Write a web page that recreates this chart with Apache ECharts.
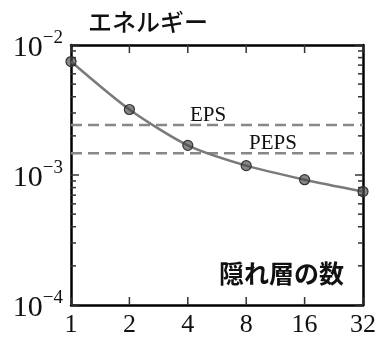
<!DOCTYPE html>
<html>
<head>
<meta charset="utf-8">
<script src="https://cdn.jsdelivr.net/npm/echarts@6/dist/echarts.min.js"></script>
<style>
  html, body { margin: 0; padding: 0; background: #fff; }
  #chart { width: 379px; height: 338px; }
</style>
</head>
<body>
<div id="chart"></div>
<script>
// Hidden-layer counts and the energy error reached with each
const layers = [1, 2, 4, 8, 16, 32];
const energy = [0.00746, 0.00319, 0.00169, 0.00118, 0.00092, 0.000746];

// Reference levels for the tensor-network ansätze
const refNames = ['EPS', 'PEPS'];
const refLevels = [0.00242, 0.00147];

// Tick values
const xTicks = [1, 2, 4, 8, 16, 32];
const yMajor = [1e-4, 1e-3, 1e-2];
const yMinor = [];
[1e-4, 1e-3].forEach(function (d) {
  for (let k = 2; k <= 9; k++) yMinor.push(+(d * k).toPrecision(3));
});

const X_MIN = 1, X_MAX = 32, Y_MIN = 1e-4, Y_MAX = 1e-2;
const serif = '"Liberation Serif", "DejaVu Serif", serif';
const cjk = '"Noto Sans CJK JP", "Noto Sans", sans-serif';

const frame = { show: true, onZero: false, lineStyle: { color: '#000', width: 2.5 } };

const chart = echarts.init(document.getElementById('chart'), null, { renderer: 'canvas' });

chart.setOption({
  animation: false,
  backgroundColor: '#fff',
  title: {
    text: 'エネルギー', left: 83, top: 5,
    textStyle: { fontFamily: cjk, fontSize: 24, fontWeight: 500, color: '#111' }
  },
  grid: { left: 71, right: 16, top: 45, bottom: 31, containLabel: false },
  xAxis: [{
    type: 'log', logBase: 2, min: X_MIN, max: X_MAX, position: 'bottom',
    axisLine: frame, axisTick: { show: false }, splitLine: { show: false },
    axisLabel: {
      show: true, customValues: xTicks, margin: 7,
      showMinLabel: true, showMaxLabel: true,
      fontFamily: serif, fontSize: 26, color: '#111',
      formatter: function (v) { return String(Math.round(v)); }
    }
  }, {
    type: 'log', logBase: 2, min: X_MIN, max: X_MAX, position: 'top',
    axisLine: frame, axisTick: { show: false }, splitLine: { show: false },
    axisLabel: { show: false }
  }],
  yAxis: [{
    type: 'log', logBase: 10, min: Y_MIN, max: Y_MAX, position: 'left',
    axisLine: frame, axisTick: { show: false }, splitLine: { show: false },
    minorTick: { show: false },
    axisLabel: {
      show: true, customValues: yMajor, margin: 8,
      showMinLabel: true, showMaxLabel: true,
      formatter: function (v) {
        const e = Math.round(Math.log10(v));
        return '{b|10}{s|\u2212' + Math.abs(e) + '}';
      },
      rich: {
        b: { fontFamily: serif, fontSize: 30, color: '#111', lineHeight: 32, padding: [6, 0, 0, 0] },
        s: { fontFamily: serif, fontSize: 19, color: '#111', verticalAlign: 'top', lineHeight: 19 }
      }
    }
  }, {
    type: 'log', logBase: 10, min: Y_MIN, max: Y_MAX, position: 'right',
    axisLine: frame, axisTick: { show: false }, splitLine: { show: false },
    axisLabel: { show: false }
  }],
  series: [
    // dashed reference levels
    {
      type: 'line', xAxisIndex: 0, yAxisIndex: 0, silent: true, z: 2,
      symbol: 'none',
      lineStyle: { color: '#888', width: 2.5, type: [11, 6] },
      data: [[X_MIN, refLevels[0]], [X_MAX, refLevels[0]]]
    },
    {
      type: 'line', xAxisIndex: 0, yAxisIndex: 0, silent: true, z: 2,
      symbol: 'none',
      lineStyle: { color: '#888', width: 2.5, type: [11, 6] },
      data: [[X_MIN, refLevels[1]], [X_MAX, refLevels[1]]]
    },
    // energy curve
    {
      type: 'line', xAxisIndex: 0, yAxisIndex: 0, z: 3,
      data: layers.map(function (n, i) { return [n, energy[i]]; }),
      smooth: 0.25, clip: false,
      lineStyle: { color: '#7a7a7a', width: 2.5 },
      symbol: 'circle', symbolSize: 10,
      itemStyle: { color: 'rgba(70,70,70,0.65)', borderColor: '#333', borderWidth: 1.2 }
    }
  ]
});

// Frame ticks (pointing inward) and text labels, placed through the axes' scales
function px(x, y) { return chart.convertToPixel({ xAxisIndex: 0, yAxisIndex: 0 }, [x, y]); }
function tickRect(id, x, y, w, h) {
  return { type: 'rect', id: id, z: 20, silent: true,
           shape: { x: x, y: y, width: w, height: h },
           style: { fill: '#333' } };
}

const graphics = [];
yMajor.concat(yMinor).forEach(function (v, i) {
  const len = yMajor.indexOf(v) >= 0 ? 8 : 5;
  const l = px(X_MIN, v), r = px(X_MAX, v);
  graphics.push(tickRect('yl' + i, l[0], l[1] - 0.75, len, 1.5));
  graphics.push(tickRect('yr' + i, r[0] - len, r[1] - 0.75, len, 1.5));
});
xTicks.forEach(function (v, i) {
  const b = px(v, Y_MIN), t = px(v, Y_MAX);
  graphics.push(tickRect('xb' + i, b[0] - 0.75, b[1] - 8, 1.5, 8));
  graphics.push(tickRect('xt' + i, t[0] - 0.75, t[1], 1.5, 8));
});

// level names sit just above their dashed lines
const labelX = [208, 273];
refLevels.forEach(function (v, i) {
  const p = px(X_MIN, v);
  graphics.push({
    type: 'text', id: 'ref' + i, z: 10, x: labelX[i], y: p[1] + 0.5,
    style: { text: refNames[i], fontFamily: serif, fontSize: 21, fill: '#111',
             textAlign: 'center', textVerticalAlign: 'bottom' }
  });
});
graphics.push({
  type: 'text', id: 'xname', right: 35, top: 261, z: 10,
  style: { text: '隠れ層の数', fontFamily: cjk, fontSize: 25, fontWeight: 'bold', fill: '#111' }
});
chart.setOption({ graphic: graphics });
</script>
</body>
</html>
